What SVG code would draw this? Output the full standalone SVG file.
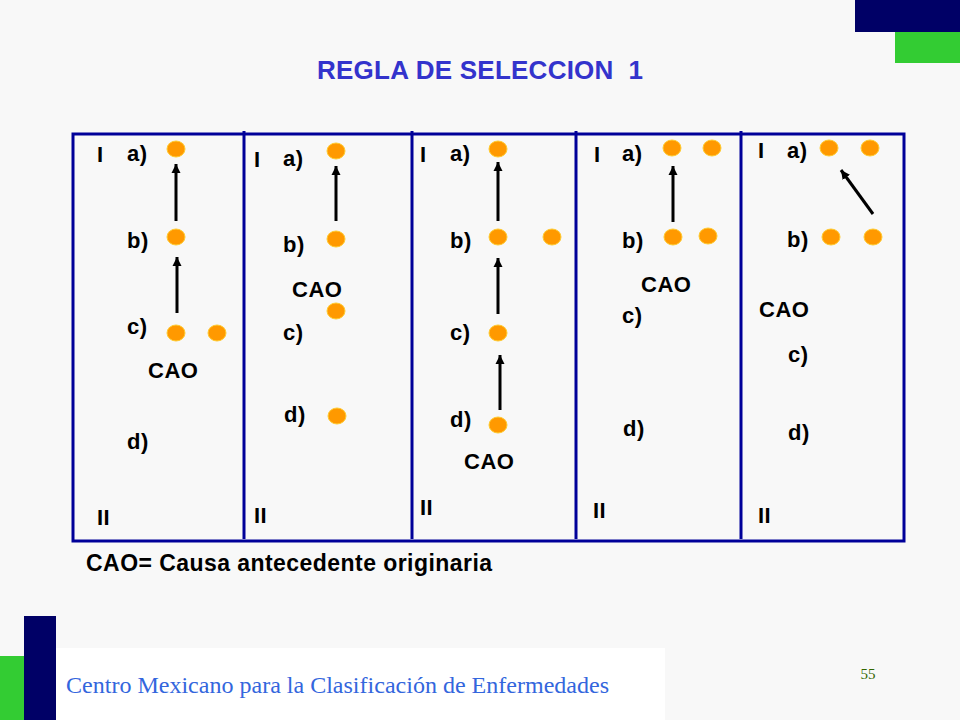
<svg xmlns="http://www.w3.org/2000/svg" width="960" height="720" viewBox="0 0 960 720">
<defs>
<style>
.lbl{font-family:"Liberation Sans",Arial,sans-serif;font-weight:bold;font-size:22px;fill:#000;letter-spacing:0.5px}
.dot{fill:#ff9900;stroke:#ffcc33;stroke-width:1}
.frame{fill:none;stroke:#000099;stroke-width:3}
.div{stroke:#000099;stroke-width:3}
.arr{stroke:#000;stroke-width:3;fill:none;marker-end:url(#ah)}
</style>
<marker id="ah" markerUnits="userSpaceOnUse" markerWidth="10" markerHeight="10" refX="9" refY="5" orient="auto">
<path d="M0,0.5 L9,5 L0,9.5 z" fill="#000"/>
</marker>
</defs>
<rect width="960" height="720" fill="#f8f8f8"/>
<rect x="855" y="0" width="105" height="32" fill="#000066"/>
<rect x="895" y="32" width="65" height="31" fill="#33cc33"/>
<rect x="0" y="656" width="24" height="64" fill="#33cc33"/>
<rect x="24" y="616" width="32" height="104" fill="#000066"/>
<rect x="56" y="648" width="609" height="72" fill="#ffffff"/>
<text x="317" y="79" textLength="326" lengthAdjust="spacing" style="font-family:'Liberation Sans',Arial,sans-serif;font-weight:bold;font-size:26px;fill:#3333cc" xml:space="preserve">REGLA DE SELECCION  1</text>
<g id="frame">
<rect class="frame" x="73" y="134" width="831" height="407"/>
<line class="div" x1="244" y1="131" x2="244" y2="539"/>
<line class="div" x1="412" y1="131" x2="412" y2="539"/>
<line class="div" x1="576" y1="131" x2="576" y2="539"/>
<line class="div" x1="741" y1="131" x2="741" y2="539"/>
</g>
<g id="col1">
<text class="lbl" x="97" y="162">I</text>
<text class="lbl" x="127" y="161">a)</text>
<text class="lbl" x="127" y="248">b)</text>
<text class="lbl" x="127" y="334">c)</text>
<text class="lbl" x="148" y="378">CAO</text>
<text class="lbl" x="127" y="449">d)</text>
<text class="lbl" x="97" y="525">II</text>
<ellipse class="dot" cx="176" cy="149" rx="9" ry="8"/>
<ellipse class="dot" cx="176" cy="237" rx="9" ry="8"/>
<ellipse class="dot" cx="176" cy="333" rx="9" ry="8"/>
<ellipse class="dot" cx="217" cy="333" rx="9" ry="8"/>
</g>
<g id="col2">
<text class="lbl" x="254" y="167">I</text>
<text class="lbl" x="283" y="166">a)</text>
<text class="lbl" x="283" y="252">b)</text>
<text class="lbl" x="292" y="297">CAO</text>
<text class="lbl" x="283" y="340">c)</text>
<text class="lbl" x="284" y="422">d)</text>
<text class="lbl" x="254" y="523">II</text>
<ellipse class="dot" cx="336" cy="151" rx="9" ry="8"/>
<ellipse class="dot" cx="336" cy="239" rx="9" ry="8"/>
<ellipse class="dot" cx="336" cy="311" rx="9" ry="8"/>
<ellipse class="dot" cx="337" cy="416" rx="9" ry="8"/>
</g>
<g id="col3">
<text class="lbl" x="420" y="162">I</text>
<text class="lbl" x="450" y="161">a)</text>
<text class="lbl" x="450" y="248">b)</text>
<text class="lbl" x="450" y="340">c)</text>
<text class="lbl" x="450" y="427">d)</text>
<text class="lbl" x="464" y="469">CAO</text>
<text class="lbl" x="420" y="515">II</text>
<ellipse class="dot" cx="498" cy="149" rx="9" ry="8"/>
<ellipse class="dot" cx="498" cy="237" rx="9" ry="8"/>
<ellipse class="dot" cx="552" cy="237" rx="9" ry="8"/>
<ellipse class="dot" cx="498" cy="333" rx="9" ry="8"/>
<ellipse class="dot" cx="498" cy="425" rx="9" ry="8"/>
</g>
<g id="col4">
<text class="lbl" x="594" y="162">I</text>
<text class="lbl" x="622" y="161">a)</text>
<text class="lbl" x="622" y="248">b)</text>
<text class="lbl" x="641" y="292">CAO</text>
<text class="lbl" x="622" y="323">c)</text>
<text class="lbl" x="623" y="436">d)</text>
<text class="lbl" x="593" y="518">II</text>
<ellipse class="dot" cx="672" cy="148" rx="9" ry="8"/>
<ellipse class="dot" cx="712" cy="148" rx="9" ry="8"/>
<ellipse class="dot" cx="673" cy="237" rx="9" ry="8"/>
<ellipse class="dot" cx="708" cy="236" rx="9" ry="8"/>
</g>
<g id="col5">
<text class="lbl" x="758" y="158">I</text>
<text class="lbl" x="787" y="158">a)</text>
<text class="lbl" x="787" y="247">b)</text>
<text class="lbl" x="759" y="317">CAO</text>
<text class="lbl" x="788" y="362">c)</text>
<text class="lbl" x="788" y="440">d)</text>
<text class="lbl" x="758" y="523">II</text>
<ellipse class="dot" cx="829" cy="148" rx="9" ry="8"/>
<ellipse class="dot" cx="870" cy="148" rx="9" ry="8"/>
<ellipse class="dot" cx="831" cy="237" rx="9" ry="8"/>
<ellipse class="dot" cx="873" cy="237" rx="9" ry="8"/>
</g>
<g id="connectors">
<line class="arr" x1="176" y1="221" x2="176" y2="164"/>
<line class="arr" x1="177" y1="313" x2="177" y2="257"/>
<line class="arr" x1="336" y1="221" x2="336" y2="166"/>
<line class="arr" x1="498" y1="221" x2="498" y2="162"/>
<line class="arr" x1="498" y1="314" x2="498" y2="258"/>
<line class="arr" x1="500" y1="410" x2="500" y2="355"/>
<line class="arr" x1="673" y1="222" x2="673" y2="166"/>
<line class="arr" x1="873" y1="214" x2="841" y2="170"/>
</g>
<text x="86" y="571" textLength="406" lengthAdjust="spacing" style="font-family:'Liberation Sans',Arial,sans-serif;font-weight:bold;font-size:23px;fill:#000">CAO= Causa antecedente originaria</text>
<text x="66" y="693" textLength="543" lengthAdjust="spacingAndGlyphs" style="font-family:'Liberation Serif','Times New Roman',serif;font-size:24px;fill:#3366dd">Centro Mexicano para la Clasificación de Enfermedades</text>
<text x="868" y="679" text-anchor="middle" style="font-family:'Liberation Serif','Times New Roman',serif;font-size:15px;fill:#336600">55</text>
</svg>
